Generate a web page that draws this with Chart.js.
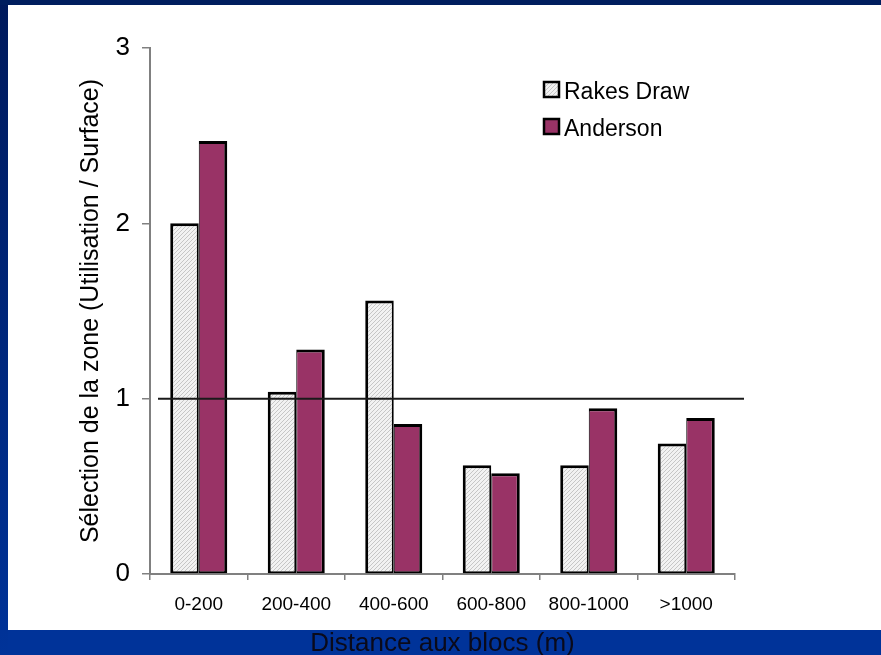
<!DOCTYPE html>
<html>
<head>
<meta charset="utf-8">
<script src="https://cdn.jsdelivr.net/npm/chart.js@4.4.1/dist/chart.umd.min.js"></script>
<style>
  html, body { margin: 0; padding: 0; overflow: hidden; background: #003399; }
  canvas { display: block; }
</style>
</head>
<body>
<canvas id="chart" width="881" height="655"></canvas>
<script>
// Données
const categories = ['0-200', '200-400', '400-600', '600-800', '800-1000', '>1000'];
const rakesDraw = [2.0, 1.04, 1.56, 0.62, 0.62, 0.745];
const anderson = [2.47, 1.28, 0.855, 0.575, 0.945, 0.89];
const yTicks = [0, 1, 2, 3];
const referenceValue = 1;  // ligne horizontale (sélection neutre)

// Motif hachuré pour "Rakes Draw"
function makeHatch() {
    const c = document.createElement('canvas');
    c.width = 4;
    c.height = 4;
    const g = c.getContext('2d');
    g.fillStyle = '#f2f2f2';
    g.fillRect(0, 0, 4, 4);
    g.strokeStyle = '#c6c6c6';
    g.lineWidth = 1;
    g.beginPath();
    g.moveTo(0, 4); g.lineTo(4, 0);
    g.moveTo(-1, 1); g.lineTo(1, -1);
    g.moveTo(3, 5); g.lineTo(5, 3);
    g.stroke();
    return g.createPattern(c, 'repeat');
}
const hatch = makeHatch();

// Fond : cadre bleu + panneau blanc
const backgroundPlugin = {
    id: 'slideBackground',
    beforeDraw(chart) {
        const ctx = chart.ctx;
        const w = chart.width, h = chart.height;
        ctx.save();
        ctx.fillStyle = '#003399';
        ctx.fillRect(0, 0, w, h);
        const side = ctx.createLinearGradient(0, 0, 0, h);
        side.addColorStop(0, '#001a5c');
        side.addColorStop(1, '#003399');
        ctx.fillStyle = side;
        ctx.fillRect(0, 0, 8, h);
        ctx.fillStyle = '#001e5e';
        ctx.fillRect(0, 0, w, 5);
        ctx.fillStyle = '#ffffff';
        ctx.fillRect(8, 5, w - 8, 625);
        ctx.restore();
    }
};

// Ligne de référence à 1 + légende
const overlayPlugin = {
    id: 'overlay',
    afterDatasetsDraw(chart) {
        const ctx = chart.ctx;
        const y = chart.scales.y.getPixelForValue(referenceValue);
        ctx.save();
        ctx.strokeStyle = '#1a1a1a';
        ctx.lineWidth = 2;
        ctx.beginPath();
        ctx.moveTo(chart.chartArea.left + 8, y);
        ctx.lineTo(chart.chartArea.right + 9, y);
        ctx.stroke();
        ctx.restore();
    },
    afterDraw(chart) {
        const ctx = chart.ctx;
        ctx.save();
        ctx.font = '23px "Liberation Sans", Arial, sans-serif';
        ctx.textBaseline = 'middle';
        chart.data.datasets.forEach((ds, i) => {
            const bx = 544, by = 82 + i * 37;
            ctx.fillStyle = ds.backgroundColor;
            ctx.fillRect(bx, by, 15, 15);
            ctx.strokeStyle = '#000';
            ctx.lineWidth = 2.5;
            ctx.strokeRect(bx, by, 15, 15);
            ctx.fillStyle = '#000';
            ctx.fillText(ds.label, 564, by + 11);
        });
        ctx.restore();
    }
};

const ctx = document.getElementById('chart').getContext('2d');
new Chart(ctx, {
    type: 'bar',
    data: {
        labels: categories,
        datasets: [{
            label: 'Rakes Draw',
            data: rakesDraw,
            backgroundColor: hatch,
            borderColor: '#000',
            borderWidth: {top: 3, left: 3, right: 2, bottom: 2},
            borderSkipped: false
        }, {
            label: 'Anderson',
            data: anderson,
            backgroundColor: '#993366',
            borderColor: '#000',
            borderWidth: {top: 3, left: 1, right: 3, bottom: 2},
            borderSkipped: false
        }]
    },
    options: {
        responsive: false,
        devicePixelRatio: 1,
        animation: false,
        layout: {
            padding: {top: 48, right: 146, left: 0, bottom: 0}
        },
        categoryPercentage: 0.585,
        barPercentage: 1,
        plugins: {
            legend: {display: false},
            tooltip: {enabled: false}
        },
        scales: {
            x: {
                afterFit(scale) { scale.height = 81; },
                grid: {
                    offset: true,
                    drawOnChartArea: false,
                    tickLength: 6,
                    color: '#808080',
                    lineWidth: 1.5
                },
                border: {color: '#808080', width: 2},
                ticks: {
                    color: '#000',
                    padding: 13,
                    font: {family: '"Liberation Sans", Arial, sans-serif', size: 19}
                },
                title: {
                    display: true,
                    text: 'Distance aux blocs (m)',
                    color: '#0a0a1a',
                    padding: {top: 0, bottom: -2},
                    font: {family: '"Liberation Sans", Arial, sans-serif', size: 26, lineHeight: 1}
                }
            },
            y: {
                min: 0,
                max: 3,
                afterFit(scale) { scale.width = 150; },
                afterBuildTicks(scale) {
                    scale.ticks = yTicks.map(v => ({value: v}));
                },
                grid: {
                    drawOnChartArea: false,
                    tickLength: 8,
                    color: '#808080',
                    lineWidth: 1.5
                },
                border: {color: '#808080', width: 2},
                ticks: {
                    color: '#000',
                    padding: 12,
                    font: {family: '"Liberation Sans", Arial, sans-serif', size: 26}
                },
                title: {
                    display: true,
                    text: 'Sélection de la zone (Utilisation / Surface)',
                    color: '#000',
                    padding: {top: 79, bottom: 0},
                    font: {family: '"Liberation Sans", Arial, sans-serif', size: 25, lineHeight: 1}
                }
            }
        }
    },
    plugins: [backgroundPlugin, overlayPlugin]
});
</script>
</body>
</html>
